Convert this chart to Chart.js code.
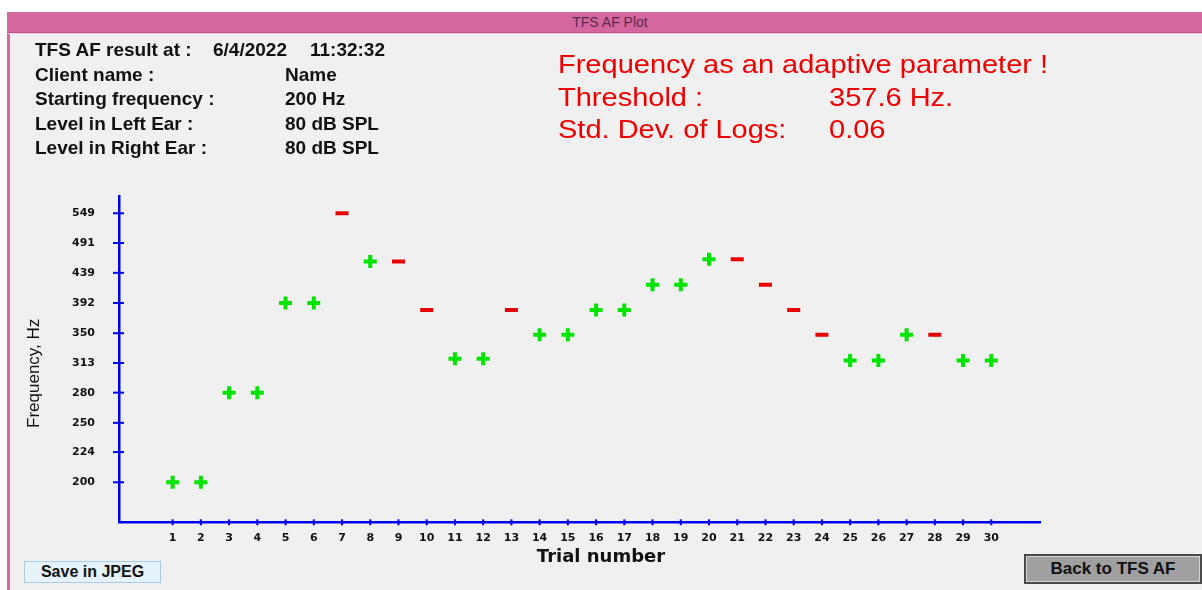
<!DOCTYPE html>
<html>
<head>
<meta charset="utf-8">
<title>TFS AF Plot</title>
<script src="https://cdn.jsdelivr.net/npm/chart.js@4.4.0/dist/chart.umd.min.js"></script>
<style>
  html, body { margin: 0; padding: 0; }
  body { width: 1202px; height: 590px; position: relative; overflow: hidden; background: #fff;
         font-family: "Liberation Sans", Arial, sans-serif; }
  #frame { position: absolute; left: 7px; top: 12px; width: 1195px; height: 578px; background: #f0f0f0;
           border-left: 3px solid #d4679f; box-sizing: border-box; }
  #titlebar { position: absolute; left: 7px; top: 12px; width: 1195px; height: 20px; background: #d4679f;
              border-bottom: 1px solid #b5578a; box-shadow: 0 1px 0 #f2c6dc; }
  #titlebar span { position: absolute; left: 603px; top: 2px; transform: translateX(-50%);
                   font-size: 14px; color: #5a2a50; line-height: 16px; }
  #chart { position: absolute; left: 0; top: 0; }
  .t { position: absolute; white-space: pre; line-height: 22px; font-weight: bold; font-size: 19px; color: #111; }
  .r { position: absolute; white-space: pre; line-height: 28px; font-size: 25px; color: #ee0000;
       transform: scaleX(1.16); transform-origin: left center; }
  .btn { position: absolute; box-sizing: border-box; font-weight: bold; text-align: center; color: #111; }
  #save { left: 24px; top: 561px; width: 137px; height: 22px; line-height: 20px; font-size: 16px;
          background: #e5f1fb; border: 1px solid #a9cbe6; }
  #back { left: 1024px; top: 554px; width: 178px; height: 30px; line-height: 26px; font-size: 17px;
          background: #a0a0a0; border: 2px solid #4a4a4a; box-shadow: inset 0 0 0 1px #d6d6d6; }
</style>
</head>
<body>
<div id="frame"></div>
<div id="titlebar"><span>TFS AF Plot</span></div>
<canvas id="chart" width="1202" height="590"></canvas>

<div class="t" style="left:35px;top:39px">TFS AF result at :</div>
<div class="t" style="left:213px;top:39px">6/4/2022</div>
<div class="t" style="left:310px;top:39px">11:32:32</div>
<div class="t" style="left:35px;top:64px">Client name :</div>
<div class="t" style="left:285px;top:64px">Name</div>
<div class="t" style="left:35px;top:88px">Starting frequency :</div>
<div class="t" style="left:285px;top:88px">200 Hz</div>
<div class="t" style="left:35px;top:113px">Level in Left Ear :</div>
<div class="t" style="left:285px;top:113px">80 dB SPL</div>
<div class="t" style="left:35px;top:137px">Level in Right Ear :</div>
<div class="t" style="left:285px;top:137px">80 dB SPL</div>

<div class="r" style="left:558px;top:50px">Frequency as an adaptive parameter !</div>
<div class="r" style="left:558px;top:83px">Threshold :</div>
<div class="r" style="left:829px;top:83px">357.6 Hz.</div>
<div class="r" style="left:558px;top:115px">Std. Dev. of Logs:</div>
<div class="r" style="left:829px;top:115px">0.06</div>

<div class="btn" id="save">Save in JPEG</div>
<div class="btn" id="back">Back to TFS AF</div>

<script>
// trial data
const trialNumbers = [1, 2, 3, 4, 5, 6, 7, 8, 9, 10, 11, 12, 13, 14, 15,
                      16, 17, 18, 19, 20, 21, 22, 23, 24, 25, 26, 27, 28, 29, 30];
const frequencies = [200, 200, 280, 280, 392, 392, 549, 458, 458, 382, 318, 318, 382, 348, 348,
                     382, 382, 420, 420, 462, 462, 420, 382, 348, 316, 316, 348, 348, 316, 316];
// '+' = correct (green cross), '-' = wrong (red dash)
const responses = ['+', '+', '+', '+', '+', '+', '-', '+', '-', '-', '+', '+', '-', '+', '+',
                   '+', '+', '+', '+', '+', '-', '-', '-', '-', '+', '+', '+', '-', '+', '+'];
const freqTicks = [200, 224, 250, 280, 313, 350, 392, 439, 491, 549];

const BLUE = '#0000f0';
const GREEN = '#00e400';
const RED = '#e80000';
const tickFont = { family: 'DejaVu Sans', weight: 'bold', size: 11 };

function pointsFor(mark) {
  return trialNumbers
    .map((t, i) => ({ x: t, y: frequencies[i], r: responses[i] }))
    .filter(p => p.r === mark);
}

// short tick marks crossing both axes
const axisTicks = {
  id: 'axisTicks',
  beforeDatasetsDraw(chart) {
    const { ctx, scales: { x, y } } = chart;
    ctx.save();
    ctx.strokeStyle = BLUE;
    ctx.lineWidth = 2;
    x.ticks.forEach((t, i) => {
      const px = x.getPixelForTick(i);
      ctx.beginPath();
      ctx.moveTo(px, x.top - 3);
      ctx.lineTo(px, x.top + 3);
      ctx.stroke();
    });
    y.ticks.forEach((t, i) => {
      const py = y.getPixelForTick(i);
      ctx.beginPath();
      ctx.moveTo(y.right - 6, py);
      ctx.lineTo(y.right + 5, py);
      ctx.stroke();
    });
    ctx.restore();
  }
};

new Chart(document.getElementById('chart'), {
  type: 'scatter',
  data: {
    datasets: [
      {
        label: 'Correct',
        data: pointsFor('+'),
        pointStyle: 'cross',
        pointRadius: 6.5,
        pointBorderWidth: 4,
        borderColor: GREEN,
        backgroundColor: GREEN
      },
      {
        label: 'Wrong',
        data: pointsFor('-'),
        pointStyle: 'line',
        pointRadius: 6.5,
        pointBorderWidth: 4,
        borderColor: RED,
        backgroundColor: RED
      }
    ]
  },
  options: {
    responsive: false,
    animation: false,
    events: [],
    layout: { padding: { top: 196, left: 0, right: 0, bottom: 22 } },
    plugins: {
      legend: { display: false },
      tooltip: { enabled: false },
      title: {
        display: true,
        position: 'bottom',
        text: 'Trial number',
        color: '#111',
        padding: 0,
        font: { family: 'DejaVu Sans', weight: 'bold', size: 18 }
      }
    },
    scales: {
      x: {
        type: 'linear',
        min: -0.9,
        max: 31.75,
        afterBuildTicks: s => { s.ticks = trialNumbers.map(v => ({ value: v })); },
        afterFit: s => { s.height = 24.1; },
        grid: { display: false, drawTicks: false },
        border: { color: BLUE, width: 2.5 },
        ticks: { autoSkip: false, maxRotation: 0, padding: 9, color: '#111', font: tickFont, callback: v => v }
      },
      y: {
        type: 'logarithmic',
        min: 172.1,
        max: 585.8,
        afterBuildTicks: s => { s.ticks = freqTicks.map(v => ({ value: v })); },
        afterFit: s => { s.width = 119; },
        grid: { display: false, drawTicks: false },
        border: { color: BLUE, width: 2.5 },
        ticks: { autoSkip: false, padding: 24, color: '#111', font: tickFont, callback: v => v },
        title: {
          display: true,
          // trailing spaces nudge the label a little lower, as in the original
          text: 'Frequency, Hz      ',
          color: '#111',
          padding: { top: 24, bottom: 0 },
          font: { family: 'Liberation Sans', size: 17 }
        }
      },
      // empty right-hand scale just reserves the space right of the x axis
      yRight: {
        type: 'linear',
        axis: 'y',
        position: 'right',
        afterFit: s => { s.width = 161.3; },
        grid: { display: false, drawTicks: false },
        border: { display: false },
        ticks: { display: false }
      }
    }
  },
  plugins: [axisTicks]
});
</script>
</body>
</html>
